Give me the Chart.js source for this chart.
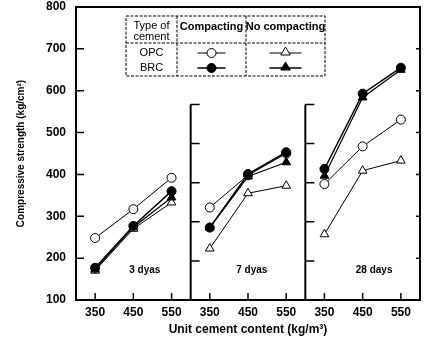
<!DOCTYPE html>
<html lang="en">
<head>
<meta charset="UTF-8" />
<title>Compressive strength</title>
<script src="https://cdn.jsdelivr.net/npm/chart.js"></script>
<style>
  body { margin: 0; background: #fff; }
  #wrap { width: 426px; height: 337px; }
</style>
</head>
<body>
<div id="wrap"><canvas id="myChart"></canvas></div>
<script>
// x categories inside each panel, and the panels (curing age)
const cementContent = [350, 450, 550];
const ageLabels = ['3 dyas', '7 dyas', '28 days'];
const yTicks = [100, 200, 300, 400, 500, 600, 700, 800];

// one row per age (3, 7, 28 days), one value per cement content
const opcCompacting   = [[248, 317, 392], [321, 398, 450], [377, 467, 531]];
const brcCompacting   = [[177, 277, 360], [273, 401, 453], [413, 593, 655]];
const opcNoCompacting = [[170, 270, 333], [223, 355, 373], [257, 409, 433]];
const brcNoCompacting = [[173, 274, 345], [273, 395, 429], [397, 584, 650]];

// small ticks on the panel separators (as drawn in the original)
const dividerTicks = [193, 287, 380, 474];
const dividerTop = 567;

const FONT = "'Liberation Sans', Arial, sans-serif";

function toPoints(rows) {
  const pts = [];
  rows.forEach((row, p) => {
    row.forEach((v, i) => pts.push({ x: p * 3 + i + 0.5, y: v }));
    if (p < rows.length - 1) pts.push({ x: p * 3 + 3, y: null });
  });
  return pts;
}

const tickPositions = [];
ageLabels.forEach((a, p) => cementContent.forEach((c, i) => tickPositions.push(p * 3 + i + 0.5)));

function marker(ctx, style, filled, x, y, r) {
  ctx.beginPath();
  if (style === 'circle') {
    ctx.arc(x, y, r, 0, Math.PI * 2);
  } else {
    ctx.moveTo(x, y - r);
    ctx.lineTo(x + r * 0.95, y + r * 0.6);
    ctx.lineTo(x - r * 0.95, y + r * 0.6);
    ctx.closePath();
  }
  ctx.fillStyle = filled ? '#000' : '#fff';
  ctx.fill();
  ctx.lineWidth = 1;
  ctx.strokeStyle = '#000';
  ctx.stroke();
}

const decorations = {
  id: 'decorations',
  afterDraw(chart) {
    const ctx = chart.ctx;
    const xs = chart.scales.x, ys = chart.scales.y;
    const a = chart.chartArea;
    ctx.save();
    ctx.strokeStyle = '#000';

    // frame top/right
    ctx.lineWidth = 2;
    ctx.beginPath();
    ctx.moveTo(a.left, a.top);
    ctx.lineTo(a.right, a.top);
    ctx.lineTo(a.right, a.bottom);
    ctx.stroke();

    // panel separators
    [3, 6].forEach(v => {
      const px = xs.getPixelForValue(v);
      ctx.lineWidth = 2;
      ctx.beginPath();
      ctx.moveTo(px, ys.getPixelForValue(dividerTop));
      ctx.lineTo(px, a.bottom);
      ctx.stroke();
      ctx.lineWidth = 1.5;
      ctx.beginPath();
      ctx.moveTo(px, ys.getPixelForValue(dividerTop));
      ctx.lineTo(px + 9, ys.getPixelForValue(dividerTop));
      dividerTicks.forEach(t => {
        const py = ys.getPixelForValue(t);
        ctx.moveTo(px, py);
        ctx.lineTo(px + 9, py);
      });
      ctx.stroke();
    });

    // inward ticks
    ctx.lineWidth = 1.5;
    ctx.beginPath();
    yTicks.forEach(t => {
      const py = ys.getPixelForValue(t);
      ctx.moveTo(a.left, py);
      ctx.lineTo(a.left + 8, py);
      ctx.moveTo(a.right, py);
      ctx.lineTo(a.right - 4, py);
    });
    tickPositions.forEach(t => {
      const px = xs.getPixelForValue(t);
      ctx.moveTo(px, a.bottom);
      ctx.lineTo(px, a.bottom - 7);
    });
    ctx.stroke();

    // panel labels
    ctx.fillStyle = '#000';
    ctx.font = 'bold 10px ' + FONT;
    ctx.textAlign = 'center';
    ctx.textBaseline = 'middle';
    const labelX = [1.8, 4.6, 7.8];
    ageLabels.forEach((t, i) => {
      ctx.fillText(t, xs.getPixelForValue(labelX[i]), ys.getPixelForValue(170));
    });

    // legend table
    const L = 126, R = 325, T = 16, B = 76, C1 = 177, C2 = 246, H = 43;
    ctx.lineWidth = 1;
    ctx.setLineDash([3, 1.5]);
    ctx.beginPath();
    ctx.rect(L, T, R - L, B - T);
    ctx.moveTo(C1, T); ctx.lineTo(C1, B);
    ctx.moveTo(C2, T); ctx.lineTo(C2, B);
    ctx.moveTo(L, H); ctx.lineTo(R, H);
    ctx.stroke();
    ctx.setLineDash([]);

    ctx.font = '11px ' + FONT;
    ctx.fillText('Type of', (L + C1) / 2, 26);
    ctx.fillText('cement', (L + C1) / 2, 37);
    ctx.fillText('OPC', (L + C1) / 2, 53);
    ctx.fillText('BRC', (L + C1) / 2, 68);
    ctx.font = 'bold 11px ' + FONT;
    ctx.fillText('Compacting', (C1 + C2) / 2, 27);
    ctx.fillText('No compacting', (C2 + R) / 2, 27);

    const cx1 = (C1 + C2) / 2, cx2 = (C2 + R) / 2;
    [[53, false], [68, true]].forEach(([py, filled]) => {
      ctx.lineWidth = filled ? 1.5 : 1;
      ctx.beginPath();
      ctx.moveTo(cx1 - 14, py); ctx.lineTo(cx1 + 14, py);
      ctx.moveTo(cx2 - 16, py); ctx.lineTo(cx2 + 16, py);
      ctx.stroke();
      marker(ctx, 'circle', filled, cx1, py, 4.5);
      marker(ctx, 'triangle', filled, cx2, py - 1, 5);
    });
    ctx.restore();
  }
};

function dataset(label, rows, style, filled, width) {
  return {
    label: label,
    data: toPoints(rows),
    borderColor: '#000',
    borderWidth: width,
    pointStyle: style,
    pointRadius: style === 'circle' ? 4.5 : 5,
    pointBackgroundColor: filled ? '#000' : '#fff',
    pointBorderColor: '#000',
    pointBorderWidth: 1,
    spanGaps: false,
    tension: 0
  };
}

new Chart(document.getElementById('myChart'), {
  type: 'line',
  data: {
    datasets: [
      dataset('BRC compacting', brcCompacting, 'circle', true, 1.5),
      dataset('BRC no compacting', brcNoCompacting, 'triangle', true, 1.2),
      dataset('OPC compacting', opcCompacting, 'circle', false, 1),
      dataset('OPC no compacting', opcNoCompacting, 'triangle', false, 1)
    ]
  },
  options: {
    responsive: true,
    maintainAspectRatio: false,
    animation: false,
    layout: { padding: { top: 7, right: 5, left: 0, bottom: 0 } },
    plugins: { legend: { display: false }, tooltip: { enabled: false } },
    scales: {
      x: {
        type: 'linear',
        min: 0,
        max: 9,
        afterBuildTicks: s => { s.ticks = tickPositions.map(v => ({ value: v })); },
        afterFit: s => { s.height = 37; s.paddingLeft = 0; s.paddingRight = 0; },
        grid: { display: false, drawTicks: false },
        border: { display: true, color: '#000', width: 2 },
        ticks: {
          padding: 5,
          color: '#000',
          font: { family: FONT, size: 12, weight: 'bold' },
          callback: (v, i) => String(cementContent[i % 3])
        },
        title: {
          display: true,
          text: 'Unit cement content (kg/m³)',
          color: '#000',
          font: { family: FONT, size: 12, weight: 'bold' },
          padding: { top: 10, bottom: 0 }
        }
      },
      y: {
        min: 100,
        max: 800,
        afterBuildTicks: s => { s.ticks = yTicks.map(v => ({ value: v })); },
        afterFit: s => { s.width = 76; s.paddingTop = 0; s.paddingBottom = 0; },
        grid: { display: false, drawTicks: false },
        border: { display: true, color: '#000', width: 2 },
        ticks: {
          padding: 10,
          color: '#000',
          font: { family: FONT, size: 12, weight: 'bold' }
        },
        title: {
          display: true,
          text: 'Compressive strength (kg/cm²)',
          color: '#000',
          font: { family: FONT, size: 10, weight: 'bold' },
          padding: { top: 15, bottom: 0 }
        }
      }
    }
  },
  plugins: [decorations]
});
</script>
</body>
</html>
